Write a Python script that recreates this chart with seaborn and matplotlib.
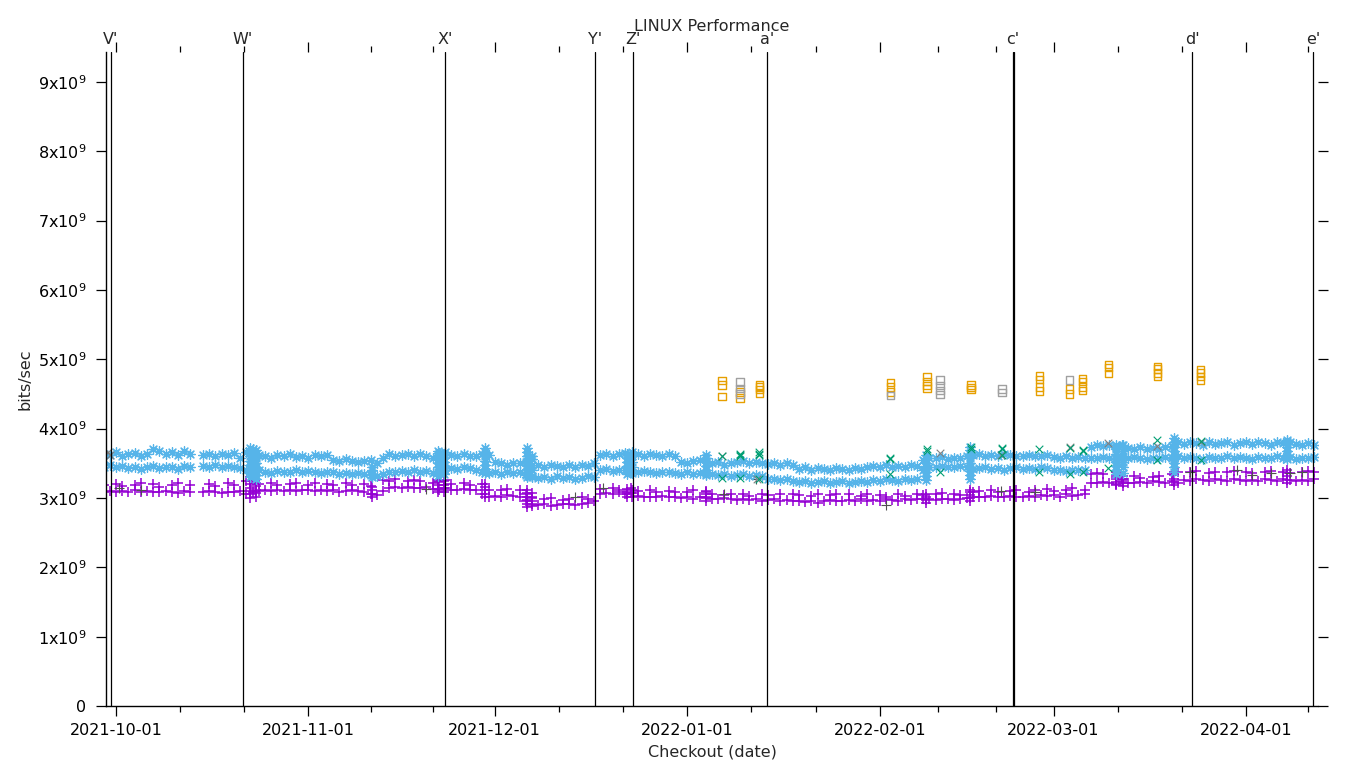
"""
LINUX Performance — gnuplot-style scatter over time, redrawn with seaborn.
Values are in units of 1e9 bits/sec, one value per day per band.
"""

import numpy as np
import pandas as pd
import matplotlib
matplotlib.use("Agg")
import matplotlib.pyplot as plt
import matplotlib.dates as mdates
import matplotlib.transforms as mtransforms
import seaborn as sns

nan = np.nan
SCALE = 1e9
GRID_START = "2021-09-29"      # first day of the daily value lists below
DAY_ZERO = pd.Timestamp("2021-10-01")

# upper band of the light-blue series
BLUE_A = [
    3.64, 3.62, 3.66, 3.61, 3.63, 3.65, 3.60, 3.64, 3.70, 3.68,
    3.63, 3.66, 3.62, 3.67, 3.64, nan, 3.62, 3.63, 3.60, 3.64,
    3.62, 3.65, 3.58, 3.66, 3.70, 3.62, 3.60, 3.57, 3.62, 3.60,
    3.63, 3.59, 3.61, 3.58, 3.62, 3.60, 3.62, 3.55, 3.53, 3.56,
    3.54, 3.52, 3.53, 3.55, 3.50, 3.58, 3.63, 3.60, 3.62, 3.64,
    3.61, 3.63, 3.60, 3.58, 3.65, 3.66, 3.62, 3.60, 3.63, 3.61,
    3.60, 3.64, 3.62, 3.52, 3.50, 3.48, 3.51, 3.50, 3.52, 3.60,
    3.47, 3.45, 3.48, 3.46, 3.44, 3.47, 3.45, 3.48, 3.46, 3.50,
    3.62, 3.64, 3.61, 3.63, 3.65, 3.62, 3.63, 3.61, 3.64, 3.62,
    3.60, 3.63, 3.61, 3.52, 3.50, 3.53, 3.55, 3.58, 3.50, 3.52,
    3.48, 3.50, 3.52, 3.53, 3.50, 3.52, 3.51, 3.49, 3.50, 3.48,
    3.50, 3.47, 3.42, 3.44, 3.41, 3.43, 3.42, 3.40, 3.43, 3.42,
    3.41, 3.43, 3.42, 3.44, 3.46, 3.45, 3.47, 3.44, 3.46, 3.45,
    3.47, 3.46, 3.55, 3.58, 3.57, 3.59, 3.56, 3.58, 3.57, 3.60,
    3.62, 3.63, 3.61, 3.62, 3.60, 3.63, 3.62, 3.61, 3.60, 3.62,
    3.61, 3.60, 3.62, 3.59, 3.58, 3.60, 3.57, 3.59, 3.58, 3.74,
    3.76, 3.75, 3.77, 3.73, 3.76, 3.72, 3.71, 3.73, 3.70, 3.72,
    3.71, 3.73, 3.75, 3.80, 3.78, 3.80, 3.79, 3.77, 3.81, 3.78,
    3.79, 3.80, 3.77, 3.79, 3.81, 3.78, 3.80, 3.79, 3.77, 3.80,
    3.79, 3.81, 3.78, 3.77, 3.79, 3.76,
]

# lower band of the light-blue series
BLUE_B = [
    3.45, 3.47, 3.44, 3.46, 3.43, 3.45, 3.42, 3.44, 3.46, 3.43,
    3.45, 3.44, 3.42, 3.46, 3.44, nan, 3.46, 3.45, 3.47, 3.44,
    3.46, 3.45, 3.43, 3.40, 3.38, 3.40, 3.38, 3.36, 3.39, 3.37,
    3.38, 3.40, 3.37, 3.39, 3.38, 3.36, 3.38, 3.37, 3.35, 3.36,
    3.34, 3.36, 3.35, 3.33, 3.32, 3.35, 3.38, 3.37, 3.39, 3.38,
    3.40, 3.37, 3.39, 3.36, 3.38, 3.40, 3.43, 3.42, 3.44, 3.43,
    3.41, 3.38, 3.36, 3.37, 3.35, 3.38, 3.36, 3.37, 3.33, 3.30,
    3.29, 3.30, 3.28, 3.31, 3.29, 3.30, 3.28, 3.29, 3.31, 3.30,
    3.40, 3.42, 3.39, 3.41, 3.40, 3.38, 3.37, 3.39, 3.38, 3.36,
    3.38, 3.37, 3.36, 3.35, 3.37, 3.34, 3.36, 3.33, 3.35, 3.33,
    3.34, 3.32, 3.33, 3.34, 3.32, 3.33, 3.31, 3.28, 3.27, 3.26,
    3.27, 3.25, 3.23, 3.24, 3.22, 3.23, 3.24, 3.22, 3.23, 3.24,
    3.22, 3.23, 3.24, 3.23, 3.26, 3.25, 3.27, 3.26, 3.25, 3.27,
    3.26, 3.28, 3.40, 3.45, 3.44, 3.46, 3.45, 3.44, 3.46, 3.45,
    3.42, 3.43, 3.44, 3.42, 3.43, 3.41, 3.43, 3.44, 3.42, 3.43,
    3.42, 3.44, 3.43, 3.40, 3.41, 3.39, 3.40, 3.41, 3.40, 3.58,
    3.57, 3.59, 3.58, 3.56, 3.58, 3.57, 3.59, 3.58, 3.56, 3.58,
    3.57, 3.59, 3.58, 3.60, 3.57, 3.59, 3.58, 3.56, 3.59, 3.57,
    3.58, 3.60, 3.57, 3.59, 3.58, 3.56, 3.59, 3.57, 3.58, 3.60,
    3.57, 3.59, 3.56, 3.58, 3.57, 3.59,
]

# main band of the purple series
PURPLE_A = [
    3.09, 3.10, 3.08, 3.10, 3.09, 3.11, 3.08, 3.10, 3.09, 3.08,
    3.10, 3.09, 3.07, 3.10, 3.09, nan, 3.08, 3.10, 3.09, 3.07,
    3.09, 3.08, 3.10, 3.05, 3.08, 3.10, 3.11, 3.10, 3.12, 3.10,
    3.11, 3.10, 3.12, 3.11, 3.10, 3.12, 3.10, 3.11, 3.09, 3.10,
    3.11, 3.10, 3.09, 3.05, 3.04, 3.10, 3.15, 3.16, 3.14, 3.16,
    3.15, 3.14, 3.16, 3.13, 3.12, 3.14, 3.12, 3.11, 3.13, 3.12,
    3.11, 3.05, 3.02, 3.03, 3.02, 3.04, 3.03, 3.02, 2.95, 2.92,
    2.90, 2.91, 2.89, 2.90, 2.92, 2.91, 2.90, 2.92, 2.93, 2.95,
    3.05, 3.07, 3.06, 3.08, 3.06, 3.07, 3.03, 3.02, 3.01, 3.02,
    3.03, 3.01, 3.02, 3.00, 3.02, 2.99, 3.01, 3.00, 2.98, 2.99,
    3.00, 2.98, 2.97, 2.99, 2.97, 2.98, 2.96, 2.97, 2.98, 2.96,
    2.97, 2.95, 2.96, 2.94, 2.95, 2.93, 2.96, 2.97, 2.95, 2.96,
    2.97, 2.96, 2.98, 2.95, 2.97, 2.96, 2.98, 2.97, 2.96, 2.98,
    2.97, 2.99, 2.98, 2.99, 2.97, 2.99, 2.98, 2.97, 2.99, 3.00,
    3.01, 3.02, 3.01, 3.03, 3.02, 3.01, 3.03, 3.02, 3.01, 3.03,
    3.02, 3.04, 3.03, 3.04, 3.02, 3.05, 3.03, 3.04, 3.05, 3.22,
    3.21, 3.23, 3.22, 3.20, 3.24, 3.22, 3.21, 3.23, 3.22, 3.24,
    3.23, 3.22, 3.24, 3.21, 3.26, 3.25, 3.27, 3.26, 3.25, 3.27,
    3.26, 3.25, 3.27, 3.26, 3.24, 3.26, 3.25, 3.27, 3.26, 3.25,
    3.27, 3.26, 3.24, 3.26, 3.25, 3.27,
]

# sparse upper points of the purple series
PURPLE_B = [
    3.18, nan, 3.20, 3.17, nan, 3.19, 3.21, nan, 3.20, 3.16,
    nan, 3.19, 3.22, nan, 3.18, nan, nan, 3.20, 3.17, nan,
    3.21, 3.19, nan, 3.24, 3.26, 3.20, nan, 3.21, 3.19, nan,
    3.20, 3.22, nan, 3.19, 3.21, nan, 3.20, 3.18, nan, 3.21,
    3.19, nan, 3.20, 3.17, nan, 3.26, 3.25, 3.27, nan, 3.25,
    3.26, 3.24, nan, 3.22, 3.24, 3.26, 3.20, nan, 3.22, 3.19,
    nan, 3.20, 3.12, nan, 3.11, 3.13, nan, 3.12, 3.05, 3.00,
    nan, 2.98, 3.00, nan, 2.97, 2.99, nan, 3.01, 2.98, nan,
    3.13, nan, 3.14, 3.12, nan, 3.15, 3.10, nan, 3.11, 3.09,
    nan, 3.10, 3.08, nan, 3.09, 3.11, nan, 3.08, 3.06, nan,
    3.04, 3.06, nan, 3.05, 3.03, nan, 3.06, 3.04, nan, 3.05,
    nan, 3.06, 3.04, nan, 3.03, 3.05, nan, 3.04, 3.06, nan,
    3.05, nan, 3.03, 3.06, nan, 3.04, 3.02, nan, 3.05, 3.03,
    nan, 3.06, 3.04, nan, 3.05, 3.07, nan, 3.06, 3.04, nan,
    3.09, 3.10, nan, 3.11, 3.08, nan, 3.10, 3.12, nan, 3.09,
    3.11, nan, 3.13, 3.10, nan, 3.12, 3.14, nan, 3.11, 3.35,
    3.36, 3.34, nan, 3.30, 3.28, nan, 3.31, 3.29, nan, 3.30,
    3.32, nan, 3.34, 3.38, nan, 3.37, 3.39, nan, 3.36, 3.38,
    nan, 3.37, 3.39, nan, 3.38, 3.36, nan, 3.37, 3.39, nan,
    3.38, 3.36, nan, 3.37, 3.39, 3.38,
]

# vertical piles of runs (days counted from 2021-10-01)
CLUSTER_DAYS = [21.6, 22.6, 41.3, 51.8, 52.8, 59.5, 66.2, 67.0, 82.3,
                83.1, 95.0, 130.4, 137.6, 161.0, 162.2, 170.4, 188.6]
CLUSTER_BLUE = [
    [3.30, 3.36, 3.42, 3.48, 3.54, 3.60, 3.66, 3.72],
    [3.27, 3.33, 3.39, 3.45, 3.51, 3.57, 3.63, 3.69],
    [3.30, 3.35, 3.40, 3.45],
    [3.32, 3.38, 3.44, 3.50, 3.56, 3.62, 3.67],
    [3.34, 3.40, 3.46, 3.52, 3.58, 3.64],
    [3.36, 3.42, 3.48, 3.54, 3.60, 3.66, 3.72],
    [3.30, 3.36, 3.42, 3.48, 3.54, 3.60, 3.66, 3.72],
    [3.32, 3.40, 3.48, 3.56],
    [3.34, 3.40, 3.46, 3.52, 3.58, 3.64],
    [3.36, 3.44, 3.52, 3.60, 3.66],
    [3.34, 3.40, 3.46, 3.52, 3.58, 3.62],
    [3.26, 3.32, 3.38, 3.44, 3.50, 3.56, 3.62],
    [3.27, 3.33, 3.39, 3.45, 3.51, 3.57, 3.63, 3.69, 3.73],
    [3.34, 3.40, 3.46, 3.52, 3.58, 3.64, 3.70, 3.76],
    [3.36, 3.44, 3.52, 3.60, 3.68, 3.76],
    [3.38, 3.44, 3.50, 3.56, 3.62, 3.68, 3.74, 3.80, 3.87],
    [3.56, 3.62, 3.68, 3.74, 3.80, 3.84],
]
CLUSTER_PURPLE = [
    [3.00, 3.05, 3.10, 3.15, 3.20, 3.25],
    [3.02, 3.07, 3.12, 3.17, 3.22],
    [3.01, 3.06, 3.11, 3.16],
    [3.08, 3.13, 3.18, 3.23, 3.26],
    [3.09, 3.14, 3.19, 3.24],
    [3.01, 3.06, 3.11, 3.16, 3.20],
    [2.87, 2.92, 2.97, 3.02, 3.07, 3.12],
    [2.89, 2.95, 3.01, 3.07],
    [3.01, 3.05, 3.09, 3.13],
    [3.02, 3.07, 3.12],
    [2.96, 3.01, 3.06, 3.10],
    [2.93, 2.97, 3.01, 3.05],
    [2.96, 3.00, 3.04, 3.08, 3.12],
    [3.18, 3.23, 3.28, 3.33, 3.38],
    [3.17, 3.22, 3.27, 3.32],
    [3.18, 3.23, 3.28, 3.33, 3.37],
    [3.21, 3.26, 3.31, 3.36, 3.40],
]

# green x markers
GREEN_DAYS = [97.6, 97.6, 100.5, 100.5, 100.5, 100.5, 103.6, 103.6, 103.6, 103.6,
              124.7, 124.7, 124.7, 130.6, 130.6, 132.7, 137.7, 137.7,
              142.7, 142.7, 142.7, 148.7, 148.7, 153.6, 153.6,
              155.7, 155.7, 155.7, 159.8, 167.7, 167.7, 174.7, 174.7]
GREEN_VALS = [3.60, 3.29, 3.62, 3.64, 3.60, 3.29, 3.62, 3.64, 3.66, 3.28,
              3.58, 3.56, 3.35, 3.68, 3.70, 3.38, 3.73, 3.71,
              3.72, 3.70, 3.62, 3.70, 3.38, 3.72, 3.35,
              3.69, 3.67, 3.38, 3.43, 3.84, 3.55, 3.82, 3.55]

# orange open squares
ORANGE_DAYS = [97.6, 97.6, 97.6, 100.5, 100.5, 103.6, 103.6, 103.6, 103.6,
               124.7, 124.7, 124.7, 130.6, 130.6, 130.6, 130.6,
               137.7, 137.7, 137.7, 148.7, 148.7, 148.7, 148.7,
               153.6, 153.6, 155.7, 155.7, 155.7, 155.7,
               159.8, 159.8, 159.8, 167.7, 167.7, 167.7, 167.7,
               174.7, 174.7, 174.7, 174.7]
ORANGE_VALS = [4.69, 4.63, 4.46, 4.53, 4.44, 4.63, 4.60, 4.56, 4.51,
               4.66, 4.60, 4.53, 4.75, 4.68, 4.62, 4.58,
               4.63, 4.59, 4.56, 4.76, 4.71, 4.60, 4.54,
               4.57, 4.50, 4.72, 4.68, 4.60, 4.55,
               4.92, 4.88, 4.79, 4.90, 4.86, 4.80, 4.75,
               4.85, 4.80, 4.75, 4.70]

# grey squares
GREY_SQ_DAYS = [100.5, 100.5, 100.5, 124.7, 132.7, 132.7, 132.7, 132.7,
                142.7, 142.7, 153.6]
GREY_SQ_VALS = [4.67, 4.58, 4.50, 4.48, 4.70, 4.62, 4.55, 4.49,
                4.57, 4.52, 4.70]

# grey x markers
GREY_X_DAYS = [-1.3, -1.0, 97.6, 103.3, 132.7, 142.5, 153.6, 159.8, 167.7, 174.7]
GREY_X_VALS = [3.66, 3.62, 3.60, 3.27, 3.65, 3.62, 3.73, 3.79, 3.75, 3.80]

# dark grey + markers
DARK_PLUS_DAYS = [0.5, 4.0, 50.0, 74.0, 78.5, 98.0, 103.0, 124.0, 142.5,
                  148.0, 173.0, 180.5, 183.0, 186.0, 189.0, 191.0]
DARK_PLUS_VALS = [3.15, 3.12, 3.13, 3.02, 3.15, 3.05, 3.27, 2.90, 3.10,
                  3.08, 3.38, 3.40, 3.33, 3.36, 3.36, 3.38]

# release markers along the top
MARK_LABELS = ["V'", "W'", "X'", "Y'", "Z'", "a'", "c'", "c'", "d'", "e'"]
MARK_DATES = ["2021-09-30 05:00", "2021-10-21 11:00", "2021-11-23 00:00",
              "2021-12-17 04:00", "2021-12-23 06:00", "2022-01-13 20:00",
              "2022-02-22 10:00", "2022-02-22 15:00", "2022-03-23 07:00",
              "2022-04-11 19:00"]

PURPLE = "#9400D3"
GREEN = "#009E73"
BLUE = "#56B4E9"
ORANGE = "#E69F00"

ASTERISK = (8, 2, 0)
X_MIN = pd.Timestamp("2021-09-29 09:20")
X_MAX = pd.Timestamp("2022-04-12 14:00")


def daily(values):
    dates = pd.date_range(GRID_START, periods=len(values), freq="D")
    df = pd.DataFrame({"date": dates, "v": np.array(values) * SCALE})
    return df.dropna()


def by_day(days, values):
    dates = DAY_ZERO + pd.to_timedelta(np.array(days), unit="D")
    return pd.DataFrame({"date": dates, "v": np.array(values) * SCALE})


def clusters(groups):
    days, vals = [], []
    for d, g in zip(CLUSTER_DAYS, groups):
        days += [d] * len(g)
        vals += g
    return by_day(days, vals)


def scatter(ax, df, marker, color, s=42, lw=0.8):
    sns.scatterplot(data=df, x="date", y="v", ax=ax, marker=marker,
                    color=color, s=s, linewidth=lw)


def main():
    sns.set_style("ticks")
    plt.rcParams["font.family"] = ["DejaVu Sans"]
    plt.rcParams["mathtext.default"] = "regular"

    fig = plt.figure(figsize=(13.6, 7.68), dpi=100)
    ax = fig.add_axes([0.0779, 0.0807, 0.8912, 0.8516])

    scatter(ax, daily(PURPLE_A), "+", PURPLE, s=55, lw=1.1)
    scatter(ax, daily(PURPLE_B), "+", PURPLE, s=55, lw=1.1)
    scatter(ax, clusters(CLUSTER_PURPLE), "+", PURPLE, s=55, lw=1.1)
    scatter(ax, by_day(DARK_PLUS_DAYS, DARK_PLUS_VALS), "+", "#505050")
    scatter(ax, daily(BLUE_A), ASTERISK, BLUE, s=48, lw=0.9)
    scatter(ax, daily(BLUE_B), ASTERISK, BLUE, s=48, lw=0.9)
    scatter(ax, clusters(CLUSTER_BLUE), ASTERISK, BLUE, s=48, lw=0.9)
    scatter(ax, by_day(GREY_X_DAYS, GREY_X_VALS), "x", "#808080", s=30)
    scatter(ax, by_day(GREEN_DAYS, GREEN_VALS), "x", GREEN, s=30)
    sns.scatterplot(data=by_day(ORANGE_DAYS, ORANGE_VALS), x="date", y="v",
                    ax=ax, marker="s", s=28, facecolor="none",
                    edgecolor=ORANGE, linewidth=1.0)
    sns.scatterplot(data=by_day(GREY_SQ_DAYS, GREY_SQ_VALS), x="date", y="v",
                    ax=ax, marker="s", s=28, facecolor="none",
                    edgecolor="#a0a0a0", linewidth=1.0)

    # ticks first; limits afterwards so the tick lists do not widen the view
    months = pd.date_range("2021-09-01", "2022-05-01", freq="MS")
    ax.set_xticks([m for m in months if X_MIN <= m <= X_MAX])
    ax.xaxis.set_major_formatter(mdates.DateFormatter("%Y-%m-%d"))
    minors = []
    for a, b in zip(months[:-1], months[1:]):
        step = (b - a) / 3
        minors += [t for t in (a + step, a + 2 * step) if X_MIN <= t <= X_MAX]
    ax.set_xticks(minors, minor=True)

    yt = [k * 1e9 for k in range(10)]
    ax.set_yticks(yt)
    ax.set_yticklabels(["0"] + [f"${k}x10^{{9}}$" for k in range(1, 10)])

    ax.set_xlim(X_MIN, X_MAX)
    ax.set_ylim(0, 9.43e9)

    trans = mtransforms.blended_transform_factory(ax.transData, ax.transAxes)
    shown = set()
    for lab, d in zip(MARK_LABELS, MARK_DATES):
        x = mdates.date2num(pd.Timestamp(d))
        ax.axvline(x, color="black", lw=0.9, zorder=3)
        if lab not in shown:
            ax.text(x, 1.008, lab, transform=trans, ha="center", va="bottom",
                    fontsize=11.5)
            shown.add(lab)

    ax.tick_params(axis="both", which="both", direction="out", top=True,
                   right=True, labeltop=False, labelright=False,
                   labelsize=11.5, colors="black", width=0.9)
    ax.tick_params(axis="x", which="major", length=7, pad=5)
    ax.tick_params(axis="x", which="minor", length=4)
    ax.tick_params(axis="y", which="major", length=7, pad=7)

    for side in ["top", "right"]:
        ax.spines[side].set_visible(False)
    for side in ["left", "bottom"]:
        ax.spines[side].set_color("black")
        ax.spines[side].set_linewidth(1.0)

    ax.set_xlabel("Checkout (date)", fontsize=11.5, labelpad=5)
    ax.set_ylabel("bits/sec", fontsize=11.5, labelpad=4)
    ax.set_title("LINUX Performance", fontsize=11.5, pad=15)

    fig.savefig("out.png", dpi=100)


if __name__ == "__main__":
    main()
